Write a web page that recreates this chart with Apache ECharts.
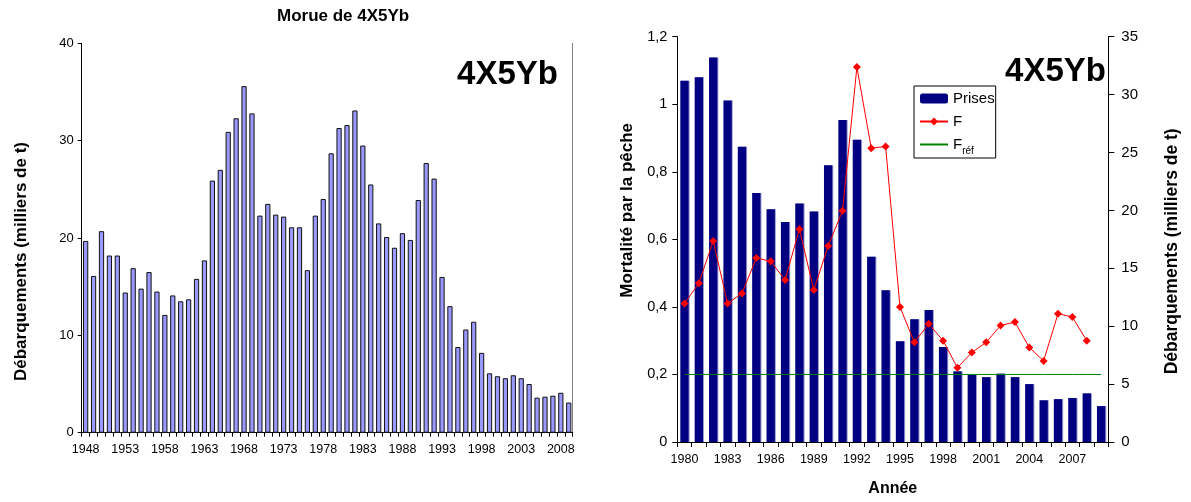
<!DOCTYPE html>
<html>
<head>
<meta charset="utf-8">
<script src="https://cdn.jsdelivr.net/npm/echarts@6/dist/echarts.min.js"></script>
<style>
html,body{margin:0;padding:0;background:#fff;}
#c{width:1191px;height:502px;}
</style>
</head>
<body>
<div id="c"></div>
<script>
// Left chart: landings 1948-2009 (thousand t)
const leftYears = ['1948','1949','1950','1951','1952','1953','1954','1955','1956','1957','1958','1959','1960','1961','1962','1963','1964','1965','1966','1967','1968','1969','1970','1971','1972','1973','1974','1975','1976','1977','1978','1979','1980','1981','1982','1983','1984','1985','1986','1987','1988','1989','1990','1991','1992','1993','1994','1995','1996','1997','1998','1999','2000','2001','2002','2003','2004','2005','2006','2007','2008','2009'];
const landings = [19.7,16.1,20.7,18.2,18.2,14.4,16.9,14.8,16.5,14.5,12.1,14.1,13.5,13.7,15.8,17.7,25.9,27.0,30.9,32.3,35.6,32.8,22.3,23.5,22.4,22.2,21.1,21.1,16.7,22.3,24.0,28.7,31.3,31.6,33.1,29.5,25.5,21.5,20.1,19.0,20.5,19.8,23.9,27.7,26.1,16.0,13.0,8.8,10.6,11.4,8.2,6.1,5.8,5.6,5.9,5.6,5.0,3.6,3.7,3.8,4.1,3.1];

// Right chart: 1980-2009
const rightYears = ['1980','1981','1982','1983','1984','1985','1986','1987','1988','1989','1990','1991','1992','1993','1994','1995','1996','1997','1998','1999','2000','2001','2002','2003','2004','2005','2006','2007','2008','2009'];
const prises = [31.2,31.5,33.2,29.5,25.5,21.5,20.1,19.0,20.6,19.9,23.9,27.8,26.1,16.0,13.1,8.7,10.6,11.4,8.2,6.1,5.8,5.6,5.9,5.6,5.0,3.6,3.7,3.8,4.2,3.1];
const fValues = [0.41,0.47,0.595,0.41,0.44,0.545,0.535,0.48,0.63,0.45,0.58,0.685,1.11,0.87,0.875,0.40,0.295,0.35,0.30,0.22,0.265,0.295,0.345,0.355,0.28,0.24,0.38,0.37,0.30,null];
const fRef = [0.2,0.2,0.2,0.2,0.2,0.2,0.2,0.2,0.2,0.2,0.2,0.2,0.2,0.2,0.2,0.2,0.2,0.2,0.2,0.2,0.2,0.2,0.2,0.2,0.2,0.2,0.2,0.2,0.2,0.2];

const FONT = 'Liberation Sans, Arial, sans-serif';
const chart = echarts.init(document.getElementById('c'), null, {renderer:'canvas'});

const axisBlack = {show:true, lineStyle:{color:'#000', width:1}};

const option = {
  animation:false,
  backgroundColor:'#fff',
  textStyle:{fontFamily:FONT, color:'#000'},
  title:[
    {text:'Morue de 4X5Yb', left:272, top:3, textStyle:{fontFamily:FONT, fontSize:17, fontWeight:'bold', color:'#000'}},
    {text:'4X5Yb', right:628, top:53, textStyle:{fontFamily:FONT, fontSize:33, fontWeight:'bold', color:'#000'}},
    {text:'4X5Yb', right:80, top:50, textStyle:{fontFamily:FONT, fontSize:33, fontWeight:'bold', color:'#000'}}
  ],
  legend:{
    data:['Prises','F',{name:'Fréf', itemStyle:{color:'rgba(0,0,0,0)', borderColor:'rgba(0,0,0,0)', borderWidth:0}}],
    orient:'vertical',
    left:914, top:86,
    backgroundColor:'#fff',
    borderColor:'#000', borderWidth:1,
    padding:[5,1,2,5],
    itemGap:8, itemWidth:28, itemHeight:10,
    textStyle:{fontFamily:FONT, fontSize:15, color:'#000',
      rich:{
        m:{fontFamily:FONT, fontSize:15, color:'#000', lineHeight:17},
        s:{fontFamily:FONT, fontSize:10, color:'#000', lineHeight:10, verticalAlign:'bottom', padding:[0,0,-3,0]}
      }
    },
    formatter:function(n){ return n==='Fréf' ? '{m|F}{s|réf}' : n; }
  },
  grid:[
    {left:81.7, right:618.3, top:43.3, bottom:69.3},
    {left:677.3, right:82.7, top:36.7, bottom:57}
  ],
  xAxis:[
    {gridIndex:0, type:'category', data:leftYears, position:'bottom',
     axisLine:axisBlack,
     axisTick:{show:true, interval:0, length:4, lineStyle:{color:'#000'}},
     axisLabel:{interval:4, fontSize:12.5, color:'#000', margin:10, fontFamily:FONT}},
    {gridIndex:0, type:'category', data:leftYears, position:'top',
     axisLine:axisBlack, axisTick:{show:false}, axisLabel:{show:false}},
    {gridIndex:1, type:'category', data:rightYears, position:'bottom',
     axisLine:axisBlack,
     axisTick:{show:true, interval:0, length:5, lineStyle:{color:'#000'}},
     axisLabel:{interval:2, fontSize:12.5, color:'#000', margin:11, fontFamily:FONT},
     name:'Année', nameLocation:'middle', nameGap:39,
     nameTextStyle:{fontFamily:FONT, fontSize:16, fontWeight:'bold', color:'#000'}},
    {gridIndex:1, type:'category', data:rightYears, position:'top',
     axisLine:axisBlack, axisTick:{show:false}, axisLabel:{show:false}}
  ],
  yAxis:[
    {gridIndex:0, type:'value', min:0, max:40, interval:10, position:'left',
     axisLine:axisBlack,
     axisTick:{show:true, length:4, lineStyle:{color:'#000'}},
     splitLine:{show:false},
     axisLabel:{fontSize:13, color:'#000', margin:8, fontFamily:FONT},
     name:'Débarquements (milliers de t)', nameLocation:'middle', nameGap:52,
     nameTextStyle:{fontFamily:FONT, fontSize:17, fontWeight:'bold', color:'#000', padding:[0,47,0,0]}},
    {gridIndex:0, type:'value', min:0, max:40, interval:10, position:'right',
     axisLine:{show:true, lineStyle:{color:'#808080', width:1}},
     axisTick:{show:false}, axisLabel:{show:false}, splitLine:{show:false}},
    {gridIndex:1, type:'value', min:0, max:1.2, interval:0.2, position:'left',
     axisLine:axisBlack,
     axisTick:{show:true, length:5, lineStyle:{color:'#000'}},
     splitLine:{show:false},
     axisLabel:{fontSize:14.5, color:'#000', margin:10, fontFamily:FONT,
       formatter:function(v){ return String(+v.toFixed(1)).replace('.', ','); }},
     name:'Mortalité par la pêche', nameLocation:'middle', nameGap:41,
     nameTextStyle:{fontFamily:FONT, fontSize:17, fontWeight:'bold', color:'#000', padding:[0,0,0,58]}},
    {gridIndex:1, type:'value', min:0, max:35, interval:5, position:'right',
     axisLine:axisBlack,
     axisTick:{show:true, length:6, lineStyle:{color:'#000'}},
     splitLine:{show:false},
     axisLabel:{fontSize:15, color:'#000', margin:13, fontFamily:FONT},
     name:'Débarquements (milliers de t)', nameLocation:'middle', nameGap:55,
     nameTextStyle:{fontFamily:FONT, fontSize:17.5, fontWeight:'bold', color:'#000', padding:[0,24,0,0]}}
  ],
  series:[
    {type:'bar', xAxisIndex:0, yAxisIndex:0, data:landings, barWidth:'66%',
     itemStyle:{color:'#9999ff', borderColor:'#111', borderWidth:1}},
    {type:'bar', name:'Prises', xAxisIndex:2, yAxisIndex:3, data:prises, barWidth:'58%',
     itemStyle:{color:'#000080', shadowColor:'#9a9ad0', shadowOffsetX:1, shadowOffsetY:0, shadowBlur:0}},
    {type:'line', name:'F', xAxisIndex:2, yAxisIndex:2, data:fValues, color:'#ff0000',
     symbol:'diamond', symbolSize:8, connectNulls:false,
     lineStyle:{color:'#ff0000', width:1}, itemStyle:{color:'#ff0000'}},
    {type:'line', name:'Fréf', xAxisIndex:2, yAxisIndex:2, data:fRef, color:'#008000',
     symbol:'none', showSymbol:false,
     lineStyle:{color:'#008000', width:1}, itemStyle:{color:'#008000'}}
  ]
};
chart.setOption(option);
</script>
</body>
</html>
